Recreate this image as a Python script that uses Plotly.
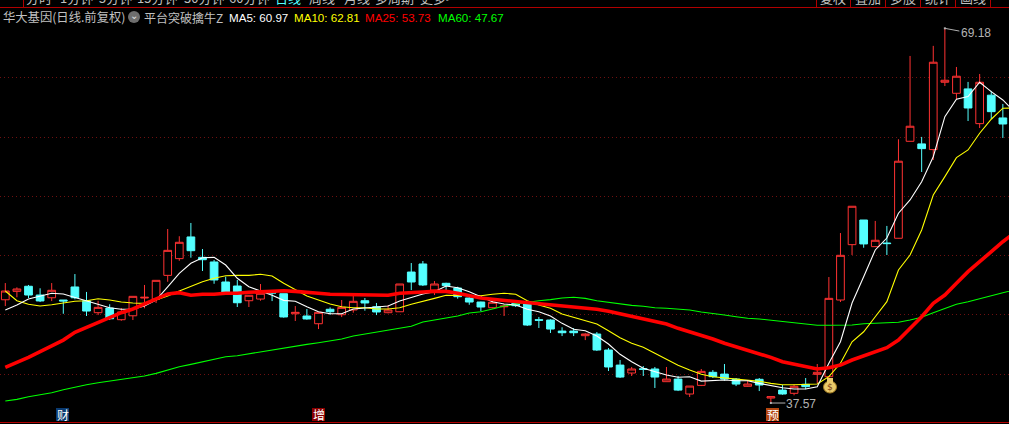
import plotly.graph_objects as go
W,H=1009,424
open_=[46.28,46.99,47.42,46.68,46.45,46.26,47.36,46.20,45.19,45.58,44.60,44.93,46.43,46.34,48.34,49.75,51.58,49.86,49.47,47.78,
47.44,46.20,46.34,46.94,46.79,45.10,44.91,44.26,45.48,45.02,45.42,46.20,45.69,45.19,45.27,48.62,49.30,47.10,47.67,47.27,
46.43,46.09,45.61,45.69,45.98,45.92,44.60,44.57,43.64,43.64,43.25,43.39,42.04,40.77,40.10,40.46,40.44,39.37,39.59,38.33,
39.06,40.16,40.01,39.59,38.98,39.57,37.99,38.66,38.39,39.15,39.99,39.79,46.26,50.93,53.01,50.76,51.07,51.47,59.65,59.43,
58.95,64.63,63.70,64.07,61.14,63.54,61.62]
close=[47.02,47.19,46.68,46.18,47.08,46.18,46.45,45.33,45.64,44.68,45.25,46.57,46.49,47.92,50.45,51.13,50.42,49.66,47.95,46.91,
46.03,46.66,46.83,46.85,44.83,45.22,44.66,45.22,45.27,45.64,46.15,46.01,45.25,45.42,47.61,47.78,47.53,47.61,47.47,46.54,
46.09,45.67,46.07,45.75,45.78,44.15,44.55,43.81,43.50,43.50,43.39,42.04,40.61,39.76,40.44,40.41,39.76,39.59,38.66,39.00,
40.24,39.79,39.59,39.17,39.17,39.09,38.11,38.33,38.98,38.95,40.16,46.40,50.03,54.17,50.99,51.30,51.02,57.97,60.92,59.03,
66.32,64.80,65.14,62.46,64.63,62.15,61.11]
high=[47.69,47.33,47.53,47.25,47.69,46.26,48.45,46.94,46.20,45.90,45.58,46.57,47.53,47.92,52.25,51.64,52.76,50.56,49.64,48.23,
47.95,46.68,47.61,46.96,46.79,45.75,45.50,45.22,45.64,46.26,46.66,46.43,46.01,45.84,47.61,49.38,49.55,47.86,47.72,47.38,
46.68,46.12,46.26,45.92,45.98,46.12,44.83,44.63,43.96,43.90,43.45,43.56,42.21,41.20,40.61,40.69,40.61,40.61,39.85,39.00,
40.44,40.35,40.86,39.68,39.48,39.68,38.11,39.09,39.15,39.68,40.86,48.20,51.91,54.17,53.01,52.93,52.51,59.82,66.85,60.02,
67.70,69.18,65.92,64.66,65.33,63.90,62.80]
low=[45.75,46.49,46.43,46.09,46.17,45.10,46.32,44.91,44.99,44.57,44.51,44.57,45.56,46.01,47.80,49.57,49.83,48.71,47.63,46.82,
45.67,45.67,46.20,46.17,44.77,44.49,44.60,43.81,45.02,44.82,45.19,45.36,44.99,45.14,45.27,47.10,47.44,46.68,47.10,46.37,
45.86,45.31,45.56,44.91,45.67,44.07,43.90,43.48,43.22,43.22,42.88,41.96,40.27,39.68,39.85,39.85,38.84,39.37,38.58,38.08,
39.00,39.68,39.45,39.00,38.95,38.58,37.57,38.27,38.22,38.73,39.23,39.51,46.09,50.06,50.67,50.73,50.06,51.46,59.65,57.06,
58.07,64.31,63.19,61.36,60.77,61.53,59.93]
ma5=[45.42,45.84,46.34,46.60,46.83,46.77,46.49,46.20,45.92,45.61,45.48,45.48,45.75,46.26,47.36,48.51,49.36,49.83,49.86,49.21,
48.09,47.38,47.02,46.66,46.23,46.15,45.69,45.27,45.10,45.10,45.50,45.58,45.69,45.75,46.18,46.49,46.77,46.96,47.44,47.30,
46.96,46.54,46.12,45.92,45.84,45.48,45.27,44.91,44.29,43.79,43.67,43.22,42.55,41.68,41.05,40.50,40.21,39.93,39.74,39.79,
39.42,39.45,39.51,39.45,39.45,39.23,39.03,38.86,38.75,38.75,38.94,40.92,42.74,46.01,48.23,50.48,51.49,53.58,54.70,56.24,
58.35,61.73,63.20,63.42,64.63,63.84,63.14,62.13]
ma10=[47.02,46.20,45.90,45.75,45.86,45.98,46.15,46.20,46.37,46.26,46.09,46.01,45.98,46.26,46.60,47.02,47.38,47.80,48.09,48.31,
48.34,48.34,48.43,48.29,47.67,47.10,46.60,46.26,45.92,45.69,45.61,45.61,45.50,45.50,45.61,45.90,46.12,46.40,46.66,46.66,
46.68,46.62,46.74,46.83,46.74,46.20,45.84,45.56,45.08,44.80,44.49,44.23,43.67,43.08,42.61,42.27,41.76,41.26,40.75,40.35,
39.99,39.79,39.70,39.62,39.51,39.40,39.23,39.11,39.11,39.11,39.17,39.79,40.92,42.74,43.58,44.85,46.12,48.79,50.06,52.17,
55.12,56.67,58.27,58.92,60.33,61.51,62.44,62.46]
ma25=[40.58,40.97,41.42,41.90,42.40,42.88,43.53,43.96,44.38,44.80,45.19,45.50,45.90,46.34,46.77,46.88,46.66,46.74,46.74,46.83,
46.83,46.91,46.96,47.04,47.04,46.99,46.88,46.83,46.74,46.71,46.74,46.66,46.66,46.66,46.83,46.91,46.94,46.99,46.99,46.83,
46.60,46.43,46.32,46.23,46.12,46.01,45.98,45.86,45.73,45.64,45.56,45.48,45.31,45.08,44.88,44.66,44.43,44.23,43.87,43.58,
43.31,42.97,42.61,42.32,42.04,41.70,41.42,41.05,40.83,40.61,40.44,40.55,40.77,41.20,41.53,41.85,42.24,42.88,43.87,44.85,
45.98,46.68,47.67,48.65,49.49,50.34,51.18,51.91]
ma60=[37.74,37.88,38.10,38.27,38.44,38.69,38.92,39.11,39.28,39.42,39.57,39.70,39.85,40.07,40.35,40.63,40.83,41.03,41.26,41.47,
41.56,41.73,41.90,42.02,42.18,42.35,42.52,42.66,42.80,42.97,43.22,43.39,43.53,43.73,43.90,44.04,44.40,44.55,44.74,44.91,
45.16,45.27,45.50,45.75,45.92,46.07,46.20,46.29,46.43,46.49,46.40,46.20,46.07,45.90,45.81,45.73,45.61,45.56,45.48,45.42,
45.25,45.14,44.99,44.85,44.72,44.66,44.55,44.40,44.29,44.18,44.13,44.13,44.13,44.15,44.26,44.29,44.29,44.38,44.57,44.80,
45.19,45.56,45.90,46.12,46.40,46.62,46.88,47.10]
grid_prices=[40,45,50,55,60,65]
RED='#ff3232'; CY='#54ffff'
fig=go.Figure()
fig.add_trace(go.Candlestick(x=list(range(len(open_))),open=open_,high=high,low=low,close=close,whiskerwidth=0,
  increasing=dict(line=dict(color=RED,width=1),fillcolor='#000000'),
  decreasing=dict(line=dict(color=CY,width=1),fillcolor=CY),hoverinfo='skip'))
for ys,c,w in [(ma60,'#00ff00',1.1),(ma10,'#ffff00',1.1),(ma5,'#ffffff',1.1),(ma25,'#ff0000',3.6)]:
    fig.add_trace(go.Scatter(x=list(range(len(ys))),y=ys,mode='lines',line=dict(color=c,width=w),hoverinfo='skip'))
def px(v): return v/W
def py(v): return 1-v/H
ann=[]; shapes=[]
def T(xp,yp,s,c='#c0c0c0',sz=12,font='Noto Sans CJK SC',anchor='left'):
    ann.append(dict(xref='paper',yref='paper',x=px(xp),y=py(yp),text=s,showarrow=False,xanchor=anchor,yanchor='middle',
      borderpad=0,borderwidth=0,font=dict(color=c,size=sz,family=font)))
T(3,17,'华大基因(日线.前复权)',sz=12.3)
T(144,17,'平台突破擒牛Z')
for xp,s,c in [(229,'MA5: 60.97','#ffffff'),(294,'MA10: 62.81','#ffff00'),(365,'MA25: 53.73','#ff0000'),(438,'MA60: 47.67','#00ff00')]:
    T(xp,17,s,c,11.6,'Liberation Sans')
for xp,s,c in [(39,'分时','#c0c0c0'),(76,'1分钟','#c0c0c0'),(115,'5分钟','#c0c0c0'),(157,'15分钟','#c0c0c0'),(204,'30分钟','#c0c0c0'),(249,'60分钟','#c0c0c0'),(288,'日线','#54ffff'),(322,'周线','#c0c0c0'),(357,'月线','#c0c0c0'),(394,'多周期','#c0c0c0'),(436,'更多>','#c0c0c0'),
  (833,'复权','#c0c0c0'),(868,'叠加','#c0c0c0'),(903,'多股','#c0c0c0'),(938,'统计','#c0c0c0'),(973,'画线','#c0c0c0'),(1003,'• •','#c0c0c0')]:
    T(xp,-2.5,s,c,13,anchor='center')
line=dict(color='#b00000',width=1)
for y0 in (7.5,422.5):
    shapes.append(dict(type='line',xref='paper',yref='paper',x0=0,x1=1,y0=py(y0),y1=py(y0),line=line))
for xv in (23.5,816.5,850.5,885.5,920.5,955.5,990.5):
    shapes.append(dict(type='line',xref='paper',yref='paper',x0=px(xv),x1=px(xv),y0=py(0),y1=py(7.5),line=line))
for x0,s,bg in [(56,'财','#0a3a70'),(312,'增','#8b0000'),(766,'预','#b5460f')]:
    shapes.append(dict(type='rect',xref='paper',yref='paper',x0=px(x0),x1=px(x0+13),y0=py(408),y1=py(421),fillcolor=bg,line=dict(width=0)))
    T(x0+6.5,414.5,s,'#ffffff',12,anchor='center')
shapes.append(dict(type='circle',xref='paper',yref='paper',x0=px(128),x1=px(140),y0=py(11),y1=py(23),fillcolor='#6e6e6e',line=dict(width=0)))
T(134,15.5,'⌄','#e0e0e0',10,'DejaVu Sans',anchor='center')
shapes.append(dict(type='circle',xref='paper',yref='paper',x0=px(823.5),x1=px(836.5),y0=py(381),y1=py(393),fillcolor='#e9c96a',line=dict(color='#a07a20',width=1)))
shapes.append(dict(type='rect',xref='paper',yref='paper',x0=px(827),x1=px(833),y0=py(378),y1=py(382),fillcolor='#e9c96a',line=dict(width=0)))
T(830,387,'$','#7a3a10',9,'DejaVu Sans',anchor='center')
for i,v,ax,ay in [(81,69.18,16,3),(66,37.57,16,0)]:
    ann.append(dict(x=i,y=v,xref='x',yref='y',ax=ax,ay=ay,text='',showarrow=True,arrowhead=7,arrowsize=0.5,arrowwidth=1,arrowcolor='#b0b0b0',standoff=0))
T(960.5,33,'69.18','#b4b4b4',12,'Liberation Sans')
T(785.5,404,'37.57','#b4b4b4',12,'Liberation Sans')
fig.update_layout(width=W,height=H,margin=dict(l=0,r=0,t=0,b=0),paper_bgcolor='#000',plot_bgcolor='#000',showlegend=False,
  annotations=ann,shapes=shapes,boxgap=0.05,
  xaxis=dict(range=[-0.457,86.53],visible=False,rangeslider=dict(visible=False),fixedrange=True),
  yaxis=dict(range=[35.80,71.57],showticklabels=False,ticks='',zeroline=False,showline=False,tickmode='array',tickvals=grid_prices,
    gridcolor='#6e1010',griddash='1px,3px',gridwidth=1,fixedrange=True))
fig.write_html('out.html',config={'displayModeBar':False},post_script="document.body.style.margin='0';document.body.style.overflow='hidden';")
